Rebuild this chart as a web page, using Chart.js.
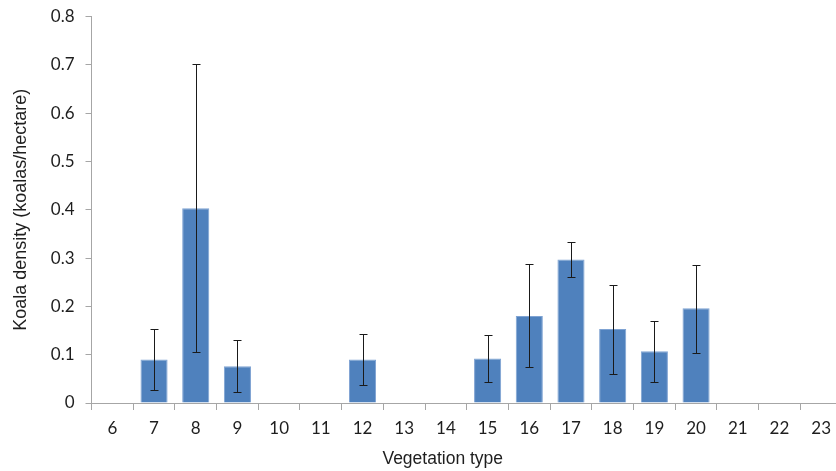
<!DOCTYPE html>
<html>
<head>
<meta charset="utf-8">
<script src="https://cdn.jsdelivr.net/npm/chart.js@4.4.1/dist/chart.umd.min.js"></script>
<style>
  html, body { margin: 0; padding: 0; overflow: hidden; background: #fff; }
  #wrap { width: 846px; height: 471px; position: relative; }
</style>
</head>
<body>
<div id="wrap"><canvas id="c"></canvas></div>
<script>
const categories = ['6','7','8','9','10','11','12','13','14','15','16','17','18','19','20','21','22','23'];
const density    = [null, 0.090, 0.403, 0.076, null, null, 0.090, null, null, 0.092, 0.180, 0.297, 0.153, 0.107, 0.196, null, null, null];
const errUpper   = [null, 0.153, 0.702, 0.130, null, null, 0.142, null, null, 0.140, 0.287, 0.334, 0.244, 0.170, 0.286, null, null, null];
const errLower   = [null, 0.026, 0.106, 0.022, null, null, 0.038, null, null, 0.044, 0.075, 0.261, 0.061, 0.044, 0.104, null, null, null];
const yTicks = { min: 0, max: 0.8, step: 0.1 };

const textColor = '#1e1e1e';
const axisColor = '#a6a6a6';
const tickFont = 'Lato, "Open Sans", sans-serif';
const titleFont = '"Liberation Sans", Arial, sans-serif';

const errorBars = {
  id: 'errorBars',
  afterDatasetsDraw(chart) {
    const { ctx, scales: { x, y } } = chart;
    ctx.save();
    ctx.strokeStyle = '#1a1a1a';
    ctx.lineWidth = 1;
    categories.forEach((c, i) => {
      if (errUpper[i] == null) return;
      const px = Math.round(x.getPixelForValue(i)) + 0.5;
      const yt = Math.round(y.getPixelForValue(errUpper[i])) + 0.5;
      const yb = Math.round(y.getPixelForValue(errLower[i])) + 0.5;
      ctx.beginPath();
      ctx.moveTo(px, yt); ctx.lineTo(px, yb);
      ctx.moveTo(px - 4, yt); ctx.lineTo(px + 4, yt);
      ctx.moveTo(px - 4, yb); ctx.lineTo(px + 4, yb);
      ctx.stroke();
    });
    ctx.restore();
  }
};

const xTitle = {
  id: 'xTitle',
  afterDraw(chart) {
    const { ctx, chartArea } = chart;
    ctx.save();
    ctx.fillStyle = textColor;
    ctx.font = '17.5px ' + titleFont;
    ctx.textAlign = 'center';
    ctx.textBaseline = 'alphabetic';
    ctx.fillText('Vegetation type', (chartArea.left + chartArea.right) / 2 - 24, chart.height - 7);
    ctx.restore();
  }
};

new Chart(document.getElementById('c'), {
  type: 'bar',
  data: {
    labels: categories,
    datasets: [{
      data: density,
      backgroundColor: '#4f81bd',
      borderColor: '#7fa3d3',
      borderWidth: 1,
      categoryPercentage: 1.0,
      barPercentage: 0.65
    }]
  },
  options: {
    responsive: true,
    maintainAspectRatio: false,
    animation: false,
    layout: { padding: { top: 16.5, right: 4, left: 0, bottom: 0 } },
    plugins: { legend: { display: false }, tooltip: { enabled: false } },
    scales: {
      x: {
        grid: { offset: true, drawOnChartArea: false, color: axisColor, tickLength: 7 },
        border: { color: axisColor },
        ticks: { color: textColor, font: { family: tickFont, size: 17 }, padding: 8, maxRotation: 0, autoSkip: false },
        afterFit(scale) { scale.height = 68; scale.paddingLeft = 0; scale.paddingRight = 0; }
      },
      y: {
        min: yTicks.min, max: yTicks.max,
        grid: { drawOnChartArea: false, color: axisColor, tickLength: 6 },
        border: { color: axisColor },
        ticks: { stepSize: yTicks.step, color: textColor, font: { family: tickFont, size: 17 }, padding: 11 },
        title: { display: true, text: 'Koala density (koalas/hectare)', color: textColor, font: { family: titleFont, size: 18 }, padding: { top: 10, bottom: 0 } },
        afterFit(scale) { scale.width = 91.5; scale.paddingTop = 0; scale.paddingBottom = 0; }
      }
    }
  },
  plugins: [errorBars, xTitle]
});
</script>
</body>
</html>
